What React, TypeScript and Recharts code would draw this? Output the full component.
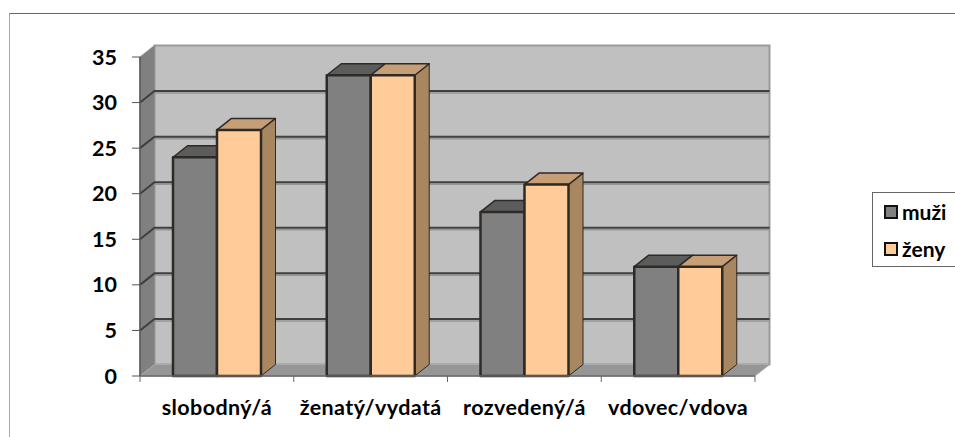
import React from "react";
import { BarChart, Bar, XAxis, YAxis, CartesianGrid, Legend } from "recharts";

const categories = ["slobodný/á", "ženatý/vydatá", "rozvedený/á", "vdovec/vdova"];
const muzi = [24, 33, 18, 12];
const zeny = [27, 33, 21, 12];
const yTicks = [0, 5, 10, 15, 20, 25, 30, 35];

const data = categories.map((name, i) => ({ name, muzi: muzi[i], zeny: zeny[i] }));

const DEPTH_X = 14.5;
const DEPTH_Y = 11.5;
const FONT = "Lato, 'Open Sans', sans-serif";
const PLOT_W = 615;

// 3D column: front face, top and right side
const Bar3D = ({ x, y, width, height, front, top, side }: any) => {
  const r = x + width;
  const b = y + height;
  return (
    <g stroke="#2e2a26" strokeWidth={2.5} strokeLinejoin="round">
      <polygon
        points={`${r},${y} ${r + DEPTH_X},${y - DEPTH_Y} ${r + DEPTH_X},${b - DEPTH_Y} ${r},${b}`}
        fill={side}
        strokeWidth={1}
      />
      <polygon
        points={`${x},${y} ${x + DEPTH_X},${y - DEPTH_Y} ${r + DEPTH_X},${y - DEPTH_Y} ${r},${y}`}
        fill={top}
        strokeWidth={1.5}
      />
      <rect x={x} y={y} width={width} height={height} fill={front} />
    </g>
  );
};

// walls and floor behind the columns, drawn once from the grid
const walls = ({ index, x, y, width, height }: any) => {
  if (index !== 0) return <g key="none" />;
  const r = x + width;
  const b = y + height;
  return (
    <g key="walls">
      <polygon
        points={`${x + DEPTH_X},${y - DEPTH_Y} ${r + DEPTH_X},${y - DEPTH_Y} ${r + DEPTH_X},${b - DEPTH_Y} ${x + DEPTH_X},${b - DEPTH_Y}`}
        fill="#c0c0c0"
        stroke="#9a9a9a"
        strokeWidth={2}
      />
      <polygon
        points={`${x},${y} ${x + DEPTH_X},${y - DEPTH_Y} ${x + DEPTH_X},${b - DEPTH_Y} ${x},${b}`}
        fill="#808080"
        stroke="#8c8c8c"
      />
      <polygon
        points={`${x},${b} ${x + DEPTH_X},${b - DEPTH_Y} ${r + DEPTH_X},${b - DEPTH_Y} ${r},${b}`}
        fill="#969696"
        stroke="#a8a8a8"
      />
    </g>
  );
};

// gridline on the back wall with its diagonal down the side wall
const gridLine = ({ x1, x2, y1, height, y, index }: any) => {
  const isEdge = y1 <= y + 0.5 || y1 >= y + height - 0.5;
  if (isEdge) return <g key={`edge-${index}`} />;
  return (
    <g key={`line-${index}`} fill="none">
      <path d={`M${x1 + DEPTH_X},${y1 - DEPTH_Y + 2} L${x2 + DEPTH_X},${y1 - DEPTH_Y + 2}`} stroke="#969696" strokeWidth={1.5} />
      <path
        d={`M${x1},${y1} L${x1 + DEPTH_X},${y1 - DEPTH_Y} L${x2 + DEPTH_X},${y1 - DEPTH_Y}`}
        stroke="#3f3f3f"
        strokeWidth={2}
      />
    </g>
  );
};

const CategoryTick = ({ x, y, payload, index }: any) => {
  const half = PLOT_W / categories.length / 2;
  return (
    <g>
      <line x1={x - half} x2={x - half} y1={y - 8} y2={y - 2} stroke="#666" />
      {index === categories.length - 1 && (
        <line x1={x + half} x2={x + half} y1={y - 8} y2={y - 2} stroke="#666" />
      )}
      <text x={x} y={y + 31} textAnchor="middle" fontFamily={FONT} fontWeight={700} fontSize={21.5} letterSpacing={0.4} fill="#000">
        {payload.value}
      </text>
    </g>
  );
};

const LegendBox = () => {
  const items = [
    { label: "muži", color: "#808080" },
    { label: "ženy", color: "#ffcc99" },
  ];
  return (
    <div style={{ width: 83, height: 75, boxSizing: "border-box", border: "1px solid #666", borderRight: "none", background: "#fff" }}>
      {items.map((it, i) => (
        <div
          key={it.label}
          style={{ position: "absolute", left: 12, top: 12 + i * 37, height: 16, display: "flex", alignItems: "center", fontFamily: FONT, fontWeight: 700, fontSize: 21, color: "#000", lineHeight: "16px" }}
        >
          <span style={{ width: 14, height: 14, boxSizing: "border-box", border: "2px solid #111", background: it.color, marginRight: 4 }} />
          {it.label}
        </div>
      ))}
    </div>
  );
};

export default function App() {
  return (
    <div style={{ position: "absolute", left: 0, top: 0, width: 955, height: 437, background: "#fff", overflow: "hidden" }}>
      <div style={{ position: "absolute", left: 9, top: 13, right: 0, bottom: 0, borderTop: "1px solid #666", borderLeft: "1px solid #a6a6a6" }} />
      <BarChart
        width={955}
        height={437}
        data={data}
        barSize={44}
        barGap={0}
        margin={{ top: 57, right: 117, bottom: 0, left: 0 }}
        style={{ position: "absolute", left: 0, top: 0 }}
      >
        <CartesianGrid horizontal={walls} vertical={false} />
        <CartesianGrid horizontal={gridLine} vertical={false} />
        <XAxis
          dataKey="name"
          height={61}
          interval={0}
          tickLine={false}
          axisLine={{ stroke: "#666", strokeWidth: 1.5 }}
          tick={<CategoryTick />}
        />
        <YAxis
          width={140}
          domain={[0, 35]}
          ticks={yTicks}
          interval={0}
          tickSize={8}
          tickMargin={15}
          axisLine={{ stroke: "#555", strokeWidth: 1.5 }}
          tickLine={{ stroke: "#555" }}
          tick={{ fontFamily: FONT, fontWeight: 700, fontSize: 21.5, fill: "#000" }}
        />
        <Legend
          layout="vertical"
          align="right"
          verticalAlign="middle"
          content={<LegendBox />}
          wrapperStyle={{ left: 872, top: 192, right: "auto", bottom: "auto", width: 83 }}
        />
        <Bar dataKey="muzi" isAnimationActive={false} shape={<Bar3D front="#808080" top="#5c5c5c" side="#606060" />} />
        <Bar dataKey="zeny" isAnimationActive={false} shape={<Bar3D front="#ffcc99" top="#c69f77" side="#a88660" />} />
      </BarChart>
    </div>
  );
}
